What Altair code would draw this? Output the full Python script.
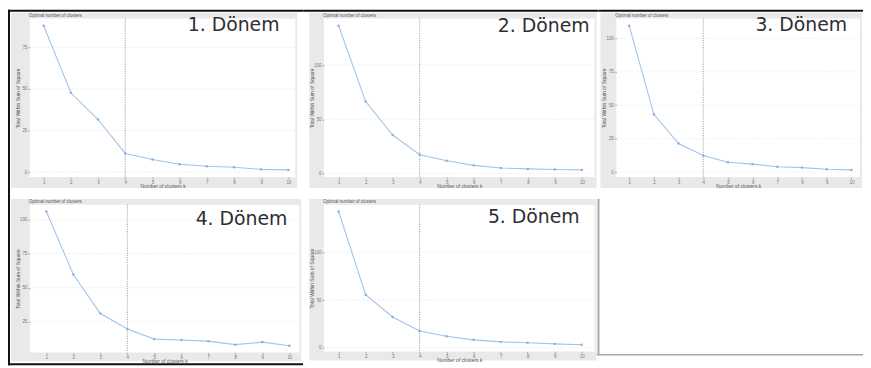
import altair as alt
import pandas as pd

# ---------------- data ----------------
k_values = list(range(1, 11))
wss_1 = [88.0, 47.7, 31.6, 11.2, 7.6, 4.7, 3.5, 2.9, 1.6, 1.3]
wss_2 = [136.3, 66.3, 35.4, 17.2, 11.6, 7.4, 5.0, 4.1, 3.6, 3.2]
wss_3 = [109.4, 43.2, 21.4, 12.4, 7.4, 6.0, 4.1, 3.4, 2.2, 1.7]
wss_4 = [106.1, 59.6, 30.9, 19.4, 12.0, 11.3, 10.5, 7.9, 9.8, 7.1]
wss_5 = [142.7, 55.6, 32.2, 17.6, 12.0, 8.3, 6.2, 5.2, 4.1, 3.1]
series = [wss_1, wss_2, wss_3, wss_4, wss_5]
period_labels = ["1. Dönem", "2. Dönem", "3. Dönem", "4. Dönem", "5. Dönem"]
y_ticks = [[0, 25, 50, 75], [0, 50, 100], [0, 25, 50, 75, 100], [25, 50, 75, 100], [0, 50, 100]]
optimal_k = [4, 4, 4, 4, 4]
plot_title = "Optimal number of clusters"
x_title = "Number of clusters k"
y_title = "Total Within Sum of Square"

LINE = "#a3c4e8"
POINT = "#86afe0"
FRAME = "#e9e9e9"
FONT = "Liberation Sans"


def one():
    return alt.Data(values=[{"a": 1}])


def rect(x0, x1, y0, y1, color):
    return alt.Chart(one()).mark_rect(color=color, strokeWidth=0).encode(
        x=alt.value(x0), x2=alt.value(x1), y=alt.value(y0), y2=alt.value(y1)
    )


def panel(idx, w, h, xdom, cell, frame, label_xy, extra_before=(), extra_after=()):
    vals = series[idx]
    lo, hi = min(vals), max(vals)
    r = hi - lo
    ydom = [lo - 0.05 * r, hi + 0.05 * r]
    xs = alt.Scale(domain=xdom, nice=False, zero=False)
    ys = alt.Scale(domain=ydom, nice=False, zero=False)

    xaxis = alt.Axis(values=k_values, format="d", title=x_title, labelFontSize=4.5,
                     tickSize=2, labelPadding=0.5, titlePadding=0, titleFontSize=5,
                     minExtent=6, maxExtent=6, domain=False, grid=False, zindex=1,
                     labelColor="#777", titleColor="#555", tickColor="#aaa",
                     titleFontWeight="normal", labelFont=FONT, titleFont=FONT)
    yaxis = alt.Axis(values=y_ticks[idx], format="d", title=y_title, labelFontSize=4.5,
                     tickSize=2, labelPadding=1, titlePadding=1.5, titleFontSize=5,
                     minExtent=8, maxExtent=8, domain=False, grid=False, zindex=1,
                     labelColor="#777", titleColor="#555", tickColor="#aaa",
                     titleFontWeight="normal", labelFont=FONT, titleFont=FONT)

    df = pd.DataFrame({"k": k_values, "wss": vals})
    grid_df = pd.DataFrame({"wss": y_ticks[idx]})
    vline_df = pd.DataFrame({"k": [optimal_k[idx]]})

    layers = [rect(*cell, "white")]
    layers += list(extra_before)
    layers += [rect(*frame, FRAME), rect(0, w, 0, h, "white")]

    layers.append(
        alt.Chart(grid_df).mark_rule(color="#e2e2e2", strokeDash=[2, 2], strokeWidth=0.6)
        .encode(y=alt.Y("wss:Q", scale=ys, axis=yaxis))
    )
    layers.append(
        alt.Chart(vline_df).mark_rule(color="#8a8a8a", strokeDash=[1.2, 1.2], strokeWidth=0.8)
        .encode(x=alt.X("k:Q", scale=xs, axis=xaxis))
    )
    base = alt.Chart(df).encode(
        x=alt.X("k:Q", scale=xs, axis=xaxis),
        y=alt.Y("wss:Q", scale=ys, axis=yaxis),
    )
    layers.append(base.mark_line(color=LINE, strokeWidth=1.1))
    layers.append(base.mark_point(filled=True, size=6, color=POINT, opacity=1))
    layers.append(
        alt.Chart(one()).mark_text(text=plot_title, align="left", baseline="middle",
                                   fontSize=4.5, color="#555", font=FONT)
        .encode(x=alt.value(-1), y=alt.value(-3))
    )
    layers.append(
        alt.Chart(one()).mark_text(text=period_labels[idx], align="right", baseline="middle",
                                   fontSize=19, font="DejaVu Sans", color="#2e2e33")
        .encode(x=alt.value(label_xy[0]), y=alt.value(label_xy[1]))
    )
    layers += list(extra_after)
    return alt.layer(*layers).properties(width=w, height=h)


BLACK = "#111111"
GREY_LINE = "#a8a8a8"

# Row 1
w1, h1 = 268, 160
p1 = panel(0, w1, h1, [0.49, 10.255], (-22, w1 + 8, -9, h1 + 16), (-19, w1 + 2, -6, h1 + 11),
           (252, 7),
           extra_before=[rect(-22, -20, -9, h1 + 16, BLACK), rect(-22, w1 + 8, -9, -7, BLACK)])
w2, h2 = 273, 160
p2 = panel(1, w2, h2, [0.461, 10.465], (-21, w2 + 4, -9, h2 + 16), (-15, w2 + 2, -6, h2 + 11),
           (268, 8),
           extra_before=[rect(-21, w2 + 4, -9, -7, BLACK)])
w3, h3 = 246, 160
p3 = panel(2, w3, h3, [0.478, 10.35], (-18, w3 + 3, -9, h3 + 16), (-16, w3 + 2, -6, h3 + 11),
           (233, 7),
           extra_before=[rect(-18, w3 + 3, -9, -7, BLACK)])

# Row 2
w4, h4 = 272, 149
p4 = panel(3, w4, h4, [0.387, 10.367], (-22, w4 + 4, -12, h4 + 13), (-19, w4 + 2, -6, h4 + 9),
           (260, 14),
           extra_before=[rect(-22, -20, -12, h4 + 13, BLACK), rect(-22, w4 + 4, h4 + 11, h4 + 13, BLACK)])
w5, h5 = 273, 148
p5 = panel(4, w5, h5, [0.46, 10.477], (-21, 544, -12, h5 + 14), (-15, w5 + 2, -6, h5 + 9),
           (258, 12),
           extra_before=[rect(w5 + 3, w5 + 5, -6, h5 + 3, GREY_LINE),
                         rect(w5 + 2, 544, h5 + 2.5, h5 + 4, GREY_LINE)])

row1 = alt.hconcat(p1, p2, p3, spacing=0)
row2 = alt.hconcat(p4, p5, spacing=0)
chart = (
    alt.vconcat(row1, row2, spacing=0)
    .properties(padding=0, background="white")
    .configure_view(stroke=None)
)

chart.save("out.html", embed_options={"renderer": "svg", "actions": False})
